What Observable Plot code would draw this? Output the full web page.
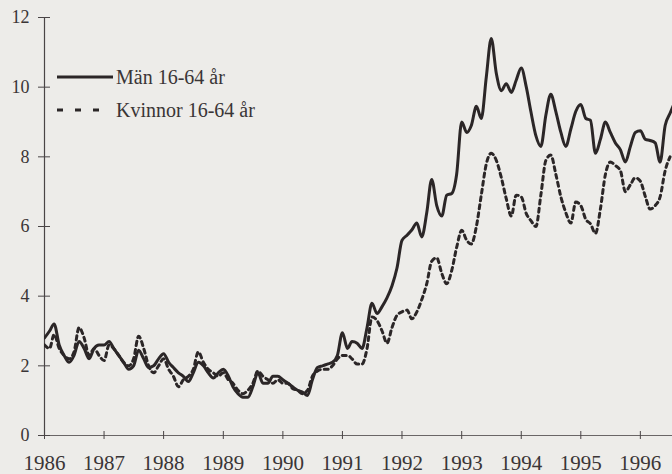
<!DOCTYPE html>
<html>
<head>
<meta charset="utf-8">
<script src="https://cdn.jsdelivr.net/npm/d3@7"></script>
<script src="https://cdn.jsdelivr.net/npm/@observablehq/plot@0.6"></script>
<style>
  html, body { margin: 0; padding: 0; background: #edece9; }
  #wrap { position: relative; width: 672px; height: 474px; overflow: hidden; background: #edece9; }
  #legend { position: absolute; left: 0; top: 0; }
</style>
</head>
<body>
<div id="wrap"></div>
<script>
// Monthly series, starting January 1986
const startMonth = "1986-01";
const menValues = [
  2.8, 3.0, 3.2, 2.6, 2.3, 2.1, 2.3, 2.7, 2.5, 2.2, 2.5, 2.6,
  2.6, 2.7, 2.5, 2.3, 2.1, 1.9, 2.0, 2.45, 2.2, 1.95, 2.0, 2.2,
  2.35, 2.1, 1.95, 1.8, 1.7, 1.55, 1.8, 2.1, 2.0, 1.8, 1.65, 1.8,
  1.9, 1.7, 1.4, 1.2, 1.1, 1.1, 1.4, 1.8, 1.5, 1.5, 1.7, 1.7,
  1.6, 1.5, 1.4, 1.3, 1.25, 1.15, 1.6, 1.95, 2.0, 2.05, 2.1, 2.3,
  2.95, 2.5, 2.7, 2.65, 2.5, 3.1, 3.8, 3.5, 3.7, 3.95, 4.3, 4.8,
  5.6, 5.75, 5.9, 6.1, 5.7, 6.4, 7.35, 6.6, 6.3, 6.9, 6.95, 7.5,
  9.0, 8.7, 8.9, 9.45, 9.1, 10.3, 11.4, 10.4, 9.9, 10.1, 9.85, 10.2,
  10.55, 10.0, 9.3, 8.6, 8.3, 9.2, 9.8, 9.3, 8.7, 8.3, 8.8, 9.3,
  9.5, 9.1, 9.05, 8.1, 8.5, 9.0, 8.7, 8.4, 8.2, 7.85, 8.3, 8.7,
  8.75, 8.5, 8.47, 8.4, 7.85, 8.9, 9.25, 9.6
];
const womenValues = [
  2.6, 2.5, 2.9, 2.5, 2.3, 2.2, 2.4, 3.1, 2.8, 2.3, 2.5, 2.3,
  2.15, 2.6, 2.5, 2.3, 2.1, 2.0, 2.2, 2.85, 2.5, 2.0, 1.8, 2.0,
  2.2, 1.9, 1.7, 1.4, 1.6, 1.7, 1.9, 2.4, 2.1, 1.9, 1.8, 1.7,
  1.8, 1.6, 1.5, 1.3, 1.2, 1.3, 1.5, 1.85, 1.7, 1.6, 1.5, 1.6,
  1.5, 1.5, 1.35, 1.3, 1.2, 1.3, 1.7, 1.85, 1.9, 1.9, 2.0, 2.2,
  2.3, 2.3, 2.2, 2.05, 2.05, 2.5, 3.4, 3.3, 3.0, 2.65, 3.1, 3.45,
  3.55, 3.6, 3.35, 3.55, 3.9, 4.36, 5.0, 5.1, 4.65, 4.36, 4.74, 5.4,
  5.89, 5.6, 5.5, 6.0, 6.9, 7.8, 8.1, 7.9, 7.4, 6.8, 6.3, 6.9,
  6.85, 6.37, 6.17, 6.0, 6.9, 7.9, 8.05, 7.5, 6.85, 6.4, 6.1, 6.7,
  6.6, 6.2, 6.08, 5.8, 6.5, 7.5, 7.85, 7.75, 7.6, 7.0, 7.2, 7.4,
  7.3, 6.85, 6.5, 6.6, 6.85, 7.6, 8.0
];
const yearTicks = [1986, 1987, 1988, 1989, 1990, 1991, 1992, 1993, 1994, 1995, 1996];
const yTicks = [0, 2, 4, 6, 8, 10, 12];
const seriesNames = ["Män 16-64 år", "Kvinnor 16-64 år"];

const start = d3.utcParse("%Y-%m")(startMonth);
const toRows = (vals, name) => vals.map((v, i) => ({date: d3.utcMonth.offset(start, i), value: v, series: name}));
const men = toRows(menValues, seriesNames[0]);
const women = toRows(womenValues, seriesNames[1]);
const tickDates = yearTicks.map(y => new Date(Date.UTC(y, 0, 1)));
const xDomain = [new Date(Date.UTC(1986, 0, 1)), new Date(Date.UTC(1996, 6, 16))];

const ink = "#2b2627";
const font = "Liberation Serif, Times New Roman, serif";

const chart = Plot.plot({
  width: 672,
  height: 474,
  marginLeft: 44,
  marginRight: 0,
  marginTop: 17,
  marginBottom: 39,
  style: {background: "transparent", fontFamily: font, color: "#3a3536", overflow: "visible"},
  x: {type: "utc", domain: xDomain, label: null},
  y: {domain: [0, 12], label: null},
  marks: [
    Plot.ruleY([0], {stroke: "#6a6666", strokeWidth: 1}),
    Plot.ruleX([xDomain[0]], {stroke: "#4a4546", strokeWidth: 1.2}),
    Plot.axisY({ticks: yTicks, tickSize: 12, dx: 6, text: null, stroke: "#4a4546", label: null}),
    Plot.axisY({ticks: yTicks, tickSize: 0, tickPadding: 15, fontSize: 18, tickFormat: d => String(d), label: null}),
    Plot.axisX({ticks: tickDates, tickSize: 8, dy: -4, text: null, stroke: "#4a4546", label: null}),
    Plot.axisX({ticks: tickDates, tickSize: 0, tickPadding: 20, fontSize: 21, tickFormat: d => String(d.getUTCFullYear()), label: null}),
    Plot.lineY(women, {x: "date", y: "value", stroke: ink, strokeWidth: 3, strokeDasharray: "4,4", curve: "monotone-x", clip: true}),
    Plot.lineY(men, {x: "date", y: "value", stroke: ink, strokeWidth: 3, curve: "monotone-x", clip: true})
  ]
});
document.getElementById("wrap").appendChild(chart);

// Legend overlay
const ns = "http://www.w3.org/2000/svg";
const leg = document.createElementNS(ns, "svg");
leg.setAttribute("id", "legend");
leg.setAttribute("width", 260);
leg.setAttribute("height", 130);
const items = [
  {name: seriesNames[0], y: 77, dash: null, x2: 113},
  {name: seriesNames[1], y: 110, dash: "6,12", x2: 108}
];
for (const it of items) {
  const l = document.createElementNS(ns, "line");
  l.setAttribute("x1", 57); l.setAttribute("x2", it.x2);
  l.setAttribute("y1", it.y); l.setAttribute("y2", it.y);
  l.setAttribute("stroke", ink); l.setAttribute("stroke-width", 3);
  if (it.dash) l.setAttribute("stroke-dasharray", it.dash);
  leg.appendChild(l);
  const t = document.createElementNS(ns, "text");
  t.setAttribute("x", 116); t.setAttribute("y", it.y);
  t.setAttribute("dy", "0.35em");
  t.setAttribute("font-family", font);
  t.setAttribute("font-size", 20);
  t.setAttribute("fill", "#3a3536");
  t.textContent = it.name;
  leg.appendChild(t);
}
document.getElementById("wrap").appendChild(leg);
</script>
</body>
</html>
